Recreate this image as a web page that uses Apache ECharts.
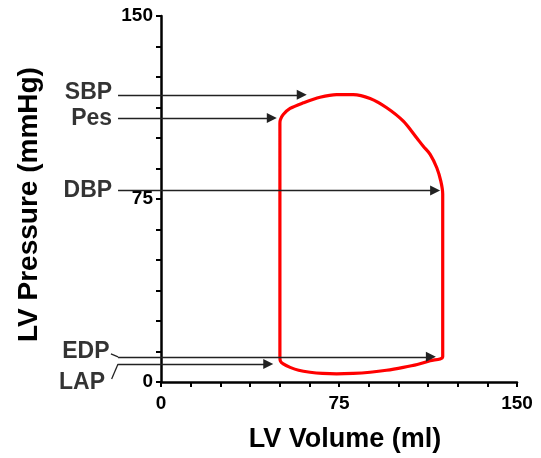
<!DOCTYPE html>
<html>
<head>
<meta charset="utf-8">
<script src="https://cdn.jsdelivr.net/npm/echarts@6.0.0/dist/echarts.min.js"></script>
<style>
  html, body { margin: 0; padding: 0; background: #fff; }
  #chart { width: 541px; height: 458px; }
</style>
</head>
<body>
<div id="chart"></div>
<script>
// pressure-volume loop (ml, mmHg)
const loopVolume = [50.1, 50.3, 51.5, 54.4, 58, 62.8, 68, 74, 81, 88.1, 95, 102.1, 108, 113.4, 118.7,
  118.7, 118.7, 118.7, 117.9, 116.2, 113.4, 110.5, 107.7, 102.1, 95.1, 88.1, 81, 74, 67, 60, 54.4, 51.5, 50.3, 50.1,
  50.1, 50.1, 50.1]
const loopPressure = [10.5, 8.6, 7.4, 6.0, 4.8, 4.0, 3.5, 3.3, 3.5, 4.0, 4.8, 6.0, 7.2, 8.7, 10.5,
  40, 60, 77, 82.3, 87.8, 93.3, 96.6, 100.1, 106.9, 112.4, 116.2, 117.8, 117.8, 116.7, 114.4, 112.1, 109.6, 107.5, 106,
  70, 40, 10.5]

// annotation arrows (end = where the arrowhead sits)
const arrowNames = ['SBP', 'Pes', 'DBP', 'EDP', 'LAP']
const arrowPressure = [117.7, 108.2, 78.5, 10.3, 7.4]
const arrowStartVolume = [-18.1, -18.1, -18.1, -18.1, -18.1]
const arrowEndVolume = [59.3, 46.7, 115.5, 113.7, 45.2]

// label anchors (right edge of text)
const labelVolume = [-20.6, -20.6, -20.6, -21.7, -23.6]
const labelPressure = [118.6, 108.0, 78.5, 12.3, -0.4]

// small leader lines for EDP / LAP
const leaderFrom = [[-21.1, 11.5], [-20.8, 1.2]]
const leaderTo = [[-18.1, 10.3], [-18.1, 7.4]]

const tickLabels = [0, 75, 150]

const font = 'Liberation Sans, Arial, sans-serif'
const chart = echarts.init(document.getElementById('chart'))

const axisCommon = {
  type: 'value',
  min: 0,
  max: 150,
  interval: 12.5,
  nameLocation: 'middle',
  axisLine: { show: true, lineStyle: { color: '#000', width: 2.5 } },
  axisTick: { show: true, length: 5, lineStyle: { color: '#000', width: 2 } },
  splitLine: { show: false },
  axisLabel: {
    fontSize: 19,
    fontWeight: 'bold',
    color: '#000',
    fontFamily: font,
    formatter: v => (tickLabels.includes(v) ? String(v) : ''),
  },
}
const nameStyle = { fontSize: 27, fontWeight: 'bold', color: '#000', fontFamily: font }

chart.setOption({
  animation: false,
  grid: { left: 161, right: 24, top: 16, bottom: 75 },
  xAxis: {
    ...axisCommon,
    name: 'LV Volume (ml)',
    nameGap: 44,
    nameTextStyle: { ...nameStyle, padding: [0, 0, 0, 12] },
    axisLabel: { ...axisCommon.axisLabel, margin: 12 },
  },
  yAxis: {
    ...axisCommon,
    name: 'LV Pressure (mmHg)',
    nameGap: 118,
    nameTextStyle: { ...nameStyle, fontSize: 28, padding: [0, 11, 0, 0] },
    axisLabel: { ...axisCommon.axisLabel, margin: 8 },
  },
  series: [
    {
      type: 'line',
      data: loopVolume.map((v, i) => [v, loopPressure[i]]),
      showSymbol: false,
      smooth: 0.3,
      clip: false,
      lineStyle: { color: '#ff0000', width: 3.2, join: 'round' },
      z: 3,
    },
    {
      type: 'lines',
      coordinateSystem: 'cartesian2d',
      clip: false,
      symbol: ['none', 'triangle'],
      symbolSize: 10,
      lineStyle: { color: '#222', width: 1.3, opacity: 1 },
      data: arrowNames.map((n, i) => ({
        coords: [[arrowStartVolume[i], arrowPressure[i]], [arrowEndVolume[i], arrowPressure[i]]],
      })),
      z: 4,
    },
    {
      type: 'lines',
      coordinateSystem: 'cartesian2d',
      clip: false,
      symbol: 'none',
      lineStyle: { color: '#222', width: 1.3, opacity: 1 },
      data: leaderFrom.map((p, i) => ({ coords: [p, leaderTo[i]] })),
    },
    {
      type: 'scatter',
      clip: false,
      symbolSize: 0,
      silent: true,
      data: arrowNames.map((n, i) => ({ name: n, value: [labelVolume[i], labelPressure[i]] })),
      label: {
        show: true,
        position: 'left',
        distance: 0,
        formatter: p => p.name,
        fontSize: 23,
        fontWeight: 'bold',
        color: '#000',
        fontFamily: font,
      },
    },
  ],
})
</script>
</body>
</html>
